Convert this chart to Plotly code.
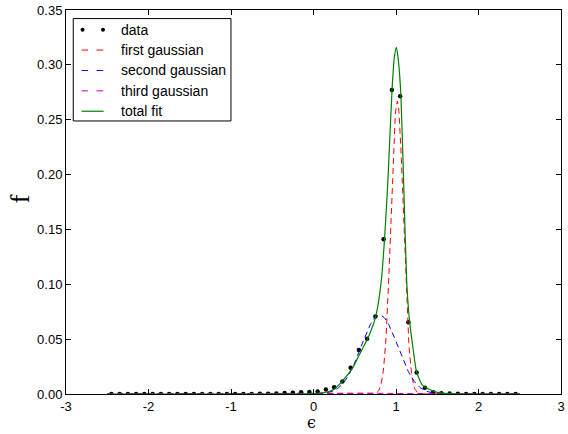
import numpy as np
import plotly.graph_objects as go

# ---- data points ----
data_x = [round(-2.45 + 0.1 * k, 2) for k in range(50)]
data_y = [0.0, 0.0, 0.0, 0.0, 0.0, 0.0, 0.0, 0.0, 0.0, 0.0,      # -2.45 .. -1.55
          0.0, 0.0, 0.0, 0.0, 0.0, 0.0, 0.0, 0.0, 0.0002, 0.0003,  # -1.45 .. -0.55
          0.0005, 0.0008, 0.0012, 0.0015, 0.0018,                  # -0.45 .. -0.05
          0.0022, 0.0042, 0.0062, 0.0115, 0.0239,                  # 0.05 .. 0.45
          0.0400, 0.0503, 0.0707, 0.141, 0.277,                    # 0.55 .. 0.95
          0.2715, 0.0655, 0.0196, 0.0056, 0.0016,                  # 1.05 .. 1.45
          0.0007, 0.0004, 0.0002, 0.0001, 0.0,                     # 1.55 .. 1.95
          0.0, 0.0, 0.0, 0.0, 0.0]                                 # 2.05 .. 2.45

# ---- gaussian components: amplitude, centre, sigma ----
first_params = [0.267, 1.015, 0.075]
second_params = [0.072, 0.80, 0.22]
third_params = [0.0008, 0.90, 0.45]

# ---- total fit curve ----
fit_x = [-2.5, -1.0, -0.4, 0.0, 0.1, 0.2, 0.26, 0.36, 0.48, 0.58, 0.66, 0.755, 0.82,
         0.861, 0.90, 0.952, 0.98, 1.005, 1.03, 1.06, 1.093, 1.13, 1.16, 1.21, 1.25,
         1.32, 1.42, 1.5, 1.6, 1.8, 2.5]
fit_y = [0.0, 0.0, 0.0, 0.0003, 0.001, 0.0025, 0.005, 0.0126, 0.0245, 0.0395, 0.051,
         0.071, 0.102, 0.141, 0.192, 0.277, 0.307, 0.316, 0.303, 0.271, 0.192, 0.102,
         0.070, 0.0395, 0.020, 0.008, 0.0036, 0.0015, 0.0005, 0.0, 0.0]

x_ticks = [-3, -2, -1, 0, 1, 2, 3]
x_tick_text = ["-3", "-2", "-1", "0", "1", "2", "3"]
y_ticks = [0.0, 0.05, 0.10, 0.15, 0.20, 0.25, 0.30, 0.35]

legend_labels = ["data", "first gaussian", "second gaussian", "third gaussian", "total fit"]
legend_colors = ["black", "#ff0000", "#0000ff", "#bf00bf", "#008000"]

grid = np.linspace(-2.5, 2.5, 1001)


def gauss(p):
    a, c, s = p
    return a * np.exp(-(grid - c) ** 2 / (2 * s ** 2))


fig = go.Figure()
fig.add_trace(go.Scatter(x=data_x, y=data_y, mode="markers", name=legend_labels[0],
                         marker=dict(color=legend_colors[0], size=4.5)))
for p, lab, col in zip([first_params, second_params, third_params],
                       legend_labels[1:4], legend_colors[1:4]):
    fig.add_trace(go.Scatter(x=grid, y=gauss(p), mode="lines", name=lab,
                             line=dict(color=col, width=1, dash="6px,4px")))
fig.add_trace(go.Scatter(x=fit_x, y=fit_y, mode="lines", name=legend_labels[4],
                         line=dict(color=legend_colors[4], width=1.2, shape="spline",
                                   smoothing=0.6)))

axis_common = dict(showline=True, linecolor="black", linewidth=1, mirror="ticks",
                   ticks="inside", ticklen=5, tickcolor="black", showgrid=False,
                   zeroline=False, ticklabeloverflow="allow",
                   tickfont=dict(family="Liberation Sans", size=13, color="black"))

# ---- legend box drawn in layout (pixel -> paper helpers) ----
PX0, PW, PY1, PH = 66.0, 499.0, 394.0, 390.0


def px(x):
    return (x - PX0) / PW


def py(y):
    return (PY1 - y) / PH


shapes = [dict(type="rect", xref="paper", yref="paper", x0=px(73.3), x1=px(232.3),
               y0=py(116.7), y1=py(12.7), line=dict(color="black", width=1),
               fillcolor="white", layer="above")]
annotations = []
row_y = [24 + 20.7 * i for i in range(5)]
for i, (lab, col) in enumerate(zip(legend_labels, legend_colors)):
    yy = py(row_y[i])
    if i == 0:
        for dx in (82.7, 103.3):
            shapes.append(dict(type="circle", xref="paper", yref="paper",
                               x0=px(dx - 2), x1=px(dx + 2), y0=yy - 2 / PH, y1=yy + 2 / PH,
                               fillcolor="black", line=dict(width=0), layer="above"))
    elif i < 4:
        for a, b in ((81.7, 88.3), (96.7, 103.5)):
            shapes.append(dict(type="line", xref="paper", yref="paper", x0=px(a), x1=px(b),
                               y0=yy, y1=yy, line=dict(color=col, width=1), layer="above"))
    else:
        shapes.append(dict(type="line", xref="paper", yref="paper", x0=px(81.7), x1=px(104),
                           y0=yy, y1=yy, line=dict(color=col, width=1.2), layer="above"))
    annotations.append(dict(text=lab, xref="paper", yref="paper", x=px(119.3), y=yy,
                            xanchor="left", yanchor="middle", showarrow=False,
                            font=dict(family="Liberation Sans", size=14, color="black")))

annotations += [
    dict(text="ϵ", xref="paper", yref="paper", x=px(313.5), y=py(411), yanchor="top",
         showarrow=False, font=dict(family="DejaVu Serif", size=16, color="black")),
    dict(text="f", xref="paper", yref="paper", x=px(20), y=py(196), xanchor="center",
         yanchor="middle", textangle=-90, showarrow=False,
         font=dict(family="Liberation Serif", size=27, color="black")),
]

fig.update_layout(
    width=568, height=434,
    margin=dict(l=66, r=3, t=4, b=40),
    paper_bgcolor="white", plot_bgcolor="white",
    showlegend=False,
    xaxis=dict(range=[-3, 3], tickvals=x_ticks, ticktext=x_tick_text, **axis_common),
    yaxis=dict(range=[0, 0.35], tickvals=y_ticks, tickformat=".2f", **axis_common),
    shapes=shapes,
    annotations=annotations,
)

fig.write_html("out.html")
